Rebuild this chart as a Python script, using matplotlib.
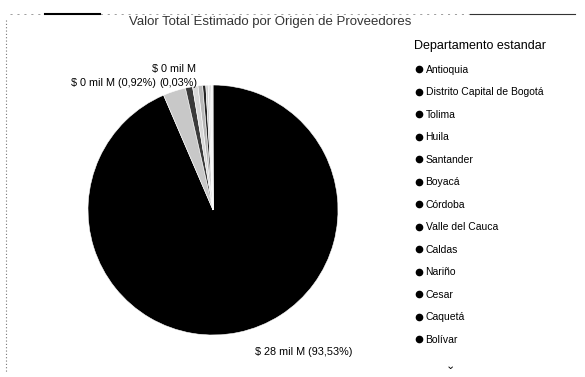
import matplotlib
matplotlib.use('Agg')
import matplotlib.pyplot as plt
from matplotlib.lines import Line2D

departments = ['Antioquia', 'Distrito Capital de Bogotá', 'Tolima', 'Huila', 'Santander',
               'Boyacá', 'Córdoba', 'Valle del Cauca', 'Caldas', 'Nariño', 'Cesar',
               'Caquetá', 'Bolívar']
shares = [93.53, 2.93, 0.92, 0.70, 0.60, 0.40, 0.30, 0.25, 0.15, 0.10, 0.06, 0.03, 0.03]
slice_colors = ['#000000', '#c8c8c8', '#3a3a3a', '#d8d8d8', '#b8b8b8', '#222222', '#d0d0d0',
                '#e0e0e0', '#c0c0c0', '#d8d8d8', '#000000', '#cccccc', '#000000']

plt.rcParams['font.family'] = ['Liberation Sans', 'DejaVu Sans']

fig = plt.figure(figsize=(5.85, 3.77), dpi=100)

ax = fig.add_axes([88 / 585, 42 / 377, 250 / 585, 250 / 377])
ax.pie(shares, colors=slice_colors, startangle=90, counterclock=False,
       wedgeprops={'edgecolor': 'white', 'linewidth': 0.4})
ax.set_xlim(-1, 1)
ax.set_ylim(-1, 1)
ax.set_aspect('equal')
ax.axis('off')

# data labels
fig.text(304 / 585, 1 - 352 / 377, '$ 28 mil M (93,53%)', fontsize=7.8, ha='center', va='center')
fig.text(156 / 585, 1 - 83 / 377, '$ 0 mil M (0,92%)', fontsize=7.8, ha='right', va='center')
fig.text(174 / 585, 1 - 69 / 377, '$ 0 mil M', fontsize=7.8, ha='center', va='center')
fig.text(178 / 585, 1 - 83 / 377, '(0,03%)', fontsize=7.8, ha='center', va='center')

fig.text(270 / 585, 1 - 22 / 377, 'Valor Total Estimado por Origen de Proveedores',
         fontsize=9.5, ha='center', va='center', color='#333333')

handles = [Line2D([], [], marker='o', color='black', linestyle='none', markersize=4.5)
           for _ in departments]
leg = fig.legend(handles, departments, loc='upper left', bbox_to_anchor=(410 / 585, 1 - 36 / 377),
                 frameon=False, fontsize=7.5, title='Departamento estandar', title_fontsize=9,
                 labelspacing=1.2, handletextpad=0.1, handlelength=1.0, borderaxespad=0)
leg._legend_box.align = 'left'

# scan artifacts: dashed header line and dotted left edge
fig.add_artist(Line2D([10 / 585, 575 / 585], [1 - 14 / 377, 1 - 14 / 377], color='#777777',
                      linewidth=0.5, linestyle=(0, (3, 7))))
fig.add_artist(Line2D([45 / 585, 100 / 585], [1 - 14 / 377, 1 - 14 / 377], color='black',
                      linewidth=1.5))
fig.add_artist(Line2D([470 / 585, 575 / 585], [1 - 14 / 377, 1 - 14 / 377], color='#333333',
                      linewidth=0.8))
fig.add_artist(Line2D([6 / 585, 6 / 585], [1 - 20 / 377, 1 - 372 / 377], color='#777777',
                      linewidth=0.8, linestyle=(0, (1, 2))))
fig.text(450 / 585, 1 - 366 / 377, '⌄', fontsize=8, ha='center', va='center')

fig.savefig('out.png', dpi=100)
